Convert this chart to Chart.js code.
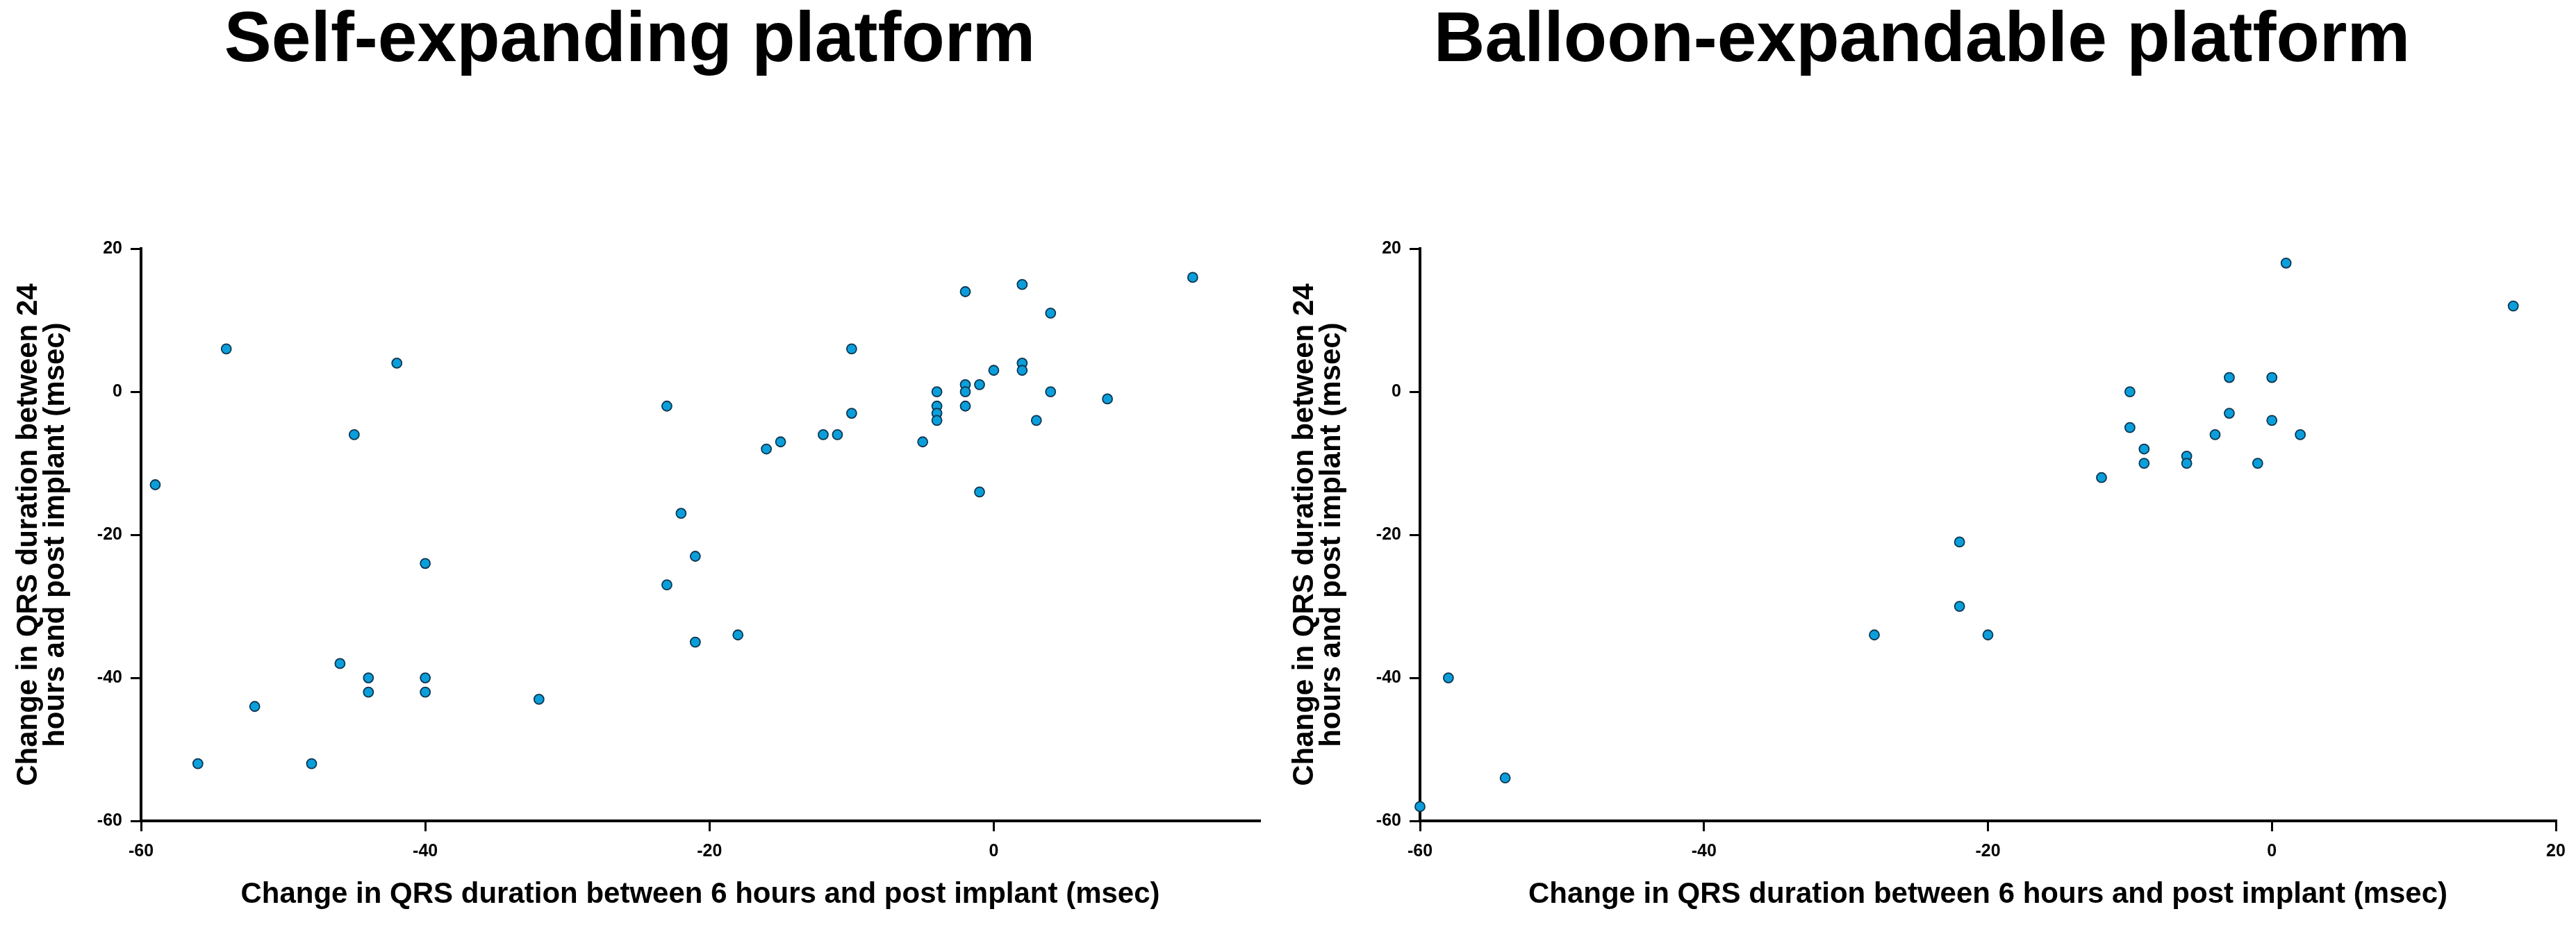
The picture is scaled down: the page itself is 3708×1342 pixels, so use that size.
<!DOCTYPE html>
<html>
<head>
<meta charset="utf-8">
<script src="https://cdn.jsdelivr.net/npm/chart.js@4.4.1/dist/chart.umd.min.js"></script>
<style>
  html, body { margin: 0; padding: 0; background: #fff; overflow: hidden; width: 3708px; height: 1342px; }
  .panel { position: absolute; top: 0; height: 1342px; }
</style>
</head>
<body>
<div class="panel" style="left:0;width:1834px"><canvas id="selfChart" width="1834" height="1342"></canvas></div>
<div class="panel" style="left:1854px;width:1954px"><canvas id="balloonChart" width="1954" height="1342"></canvas></div>
<script>
// self-expanding: change 6h vs post (x), change 24h vs post (y)
const selfX = [-54, -42, -45, -59, -40, -46, -44, -44, -40, -40, -52, -56, -48, -32, -23, -10, -10, -2, 2, 4, 14, 0, 2, 2, -2, -2, -2, -1, -4, -4, -4, -4, 4, 8, 3, -12, -11, -15, -5, -16, -1, -22, -21, -23, -21, -18];
const selfY = [6, 4, -6, -13, -24, -38, -40, -42, -40, -42, -44, -52, -52, -43, -2, 6, -3, 14, 15, 11, 16, 3, 4, 3, 1, 0, -2, 1, 0, -2, -3, -4, 0, -1, -4, -6, -6, -7, -7, -8, -14, -17, -23, -27, -35, -34];

// balloon-expandable
const balloonX = [1, 17, -3, 0, -10, -3, 0, -10, -4, 2, -9, -9, -6, -6, -1, -12, -22, -22, -28, -20, -58, -54, -60];
const balloonY = [18, 12, 2, 2, 0, -3, -4, -5, -6, -6, -8, -10, -9, -10, -10, -12, -21, -30, -34, -34, -40, -54, -58];

const xTicks = [-60, -40, -20, 0, 20];
const yTicks = [-60, -40, -20, 0, 20];

const xTitle = 'Change in QRS duration between 6 hours and post implant (msec)';
const yTitle = ['Change in QRS duration between 24', 'hours and post implant (msec)'];

const FONT = '"Liberation Sans", Arial, Helvetica, sans-serif';

function makeConfig(xs, ys, title, xMax, yWidth, yTitlePad, padRight) {
  return {
    type: 'scatter',
    data: {
      datasets: [{
        data: xs.map((x, i) => ({ x: x, y: ys[i] })),
        pointRadius: 7,
        pointHoverRadius: 7,
        pointBackgroundColor: '#0a9fdb',
        pointBorderColor: '#0e3650',
        pointBorderWidth: 1.8,
        clip: false
      }]
    },
    options: {
      responsive: false,
      animation: false,
      devicePixelRatio: 1,
      layout: { padding: { left: 0, right: padRight, top: 0, bottom: 0 } },
      plugins: {
        legend: { display: false },
        tooltip: { enabled: false },
        title: {
          display: true,
          text: title,
          color: '#000',
          font: { family: FONT, size: 102, weight: 'bold', lineHeight: 1.1 },
          padding: { top: 4, bottom: 242 }
        }
      },
      scales: {
        x: {
          type: 'linear',
          min: -60,
          max: xMax,
          afterBuildTicks: (axis) => { axis.ticks = xTicks.filter(v => v <= xMax).map(v => ({ value: v })); },
          afterFit: (axis) => { axis.height = 160; },
          grid: { display: true, drawOnChartArea: false, drawTicks: true, tickLength: 15, color: '#000', lineWidth: 3 },
          border: { display: true, color: '#000', width: 4 },
          ticks: { color: '#000', padding: 14, font: { family: FONT, size: 25, weight: 'bold' } },
          title: {
            display: true,
            text: xTitle,
            color: '#000',
            font: { family: FONT, size: 42, weight: 'bold', lineHeight: 1.2 },
            padding: { top: 0, bottom: 28 }
          }
        },
        y: {
          type: 'linear',
          min: -60,
          max: 20,
          afterBuildTicks: (axis) => { axis.ticks = yTicks.map(v => ({ value: v })); },
          afterFit: (axis) => { axis.width = yWidth; },
          grid: { display: true, drawOnChartArea: false, drawTicks: true, tickLength: 15, color: '#000', lineWidth: 3 },
          border: { display: true, color: '#000', width: 4 },
          ticks: { color: '#000', padding: 12, font: { family: FONT, size: 25, weight: 'bold' } },
          title: {
            display: true,
            text: yTitle,
            color: '#000',
            font: { family: FONT, size: 42, weight: 'bold', lineHeight: 0.92 },
            padding: { top: yTitlePad, bottom: 0 }
          }
        }
      }
    }
  };
}

new Chart(document.getElementById('selfChart'),
  makeConfig(selfX, selfY, 'Self-expanding platform', 18.7, 203, 22, 21));
new Chart(document.getElementById('balloonChart'),
  makeConfig(balloonX, balloonY, 'Balloon-expandable platform', 20, 190, 5, 129));
</script>
</body>
</html>
